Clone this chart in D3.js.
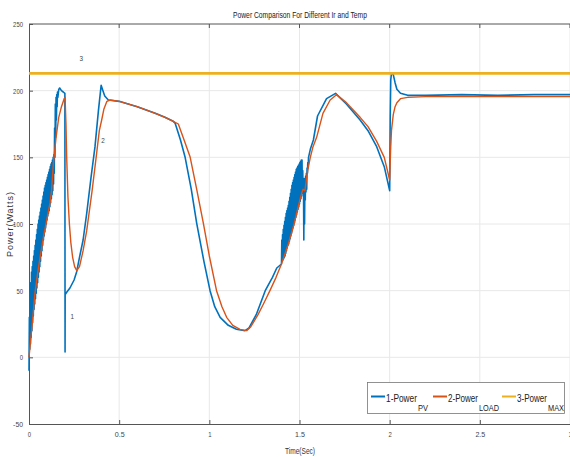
<!DOCTYPE html>
<html><head><meta charset="utf-8">
<script src="https://cdn.jsdelivr.net/npm/d3@7"></script>
<style>
html,body{margin:0;padding:0;background:#fff;}
svg text{font-family:'Liberation Sans',Arial,sans-serif;}
</style></head>
<body><svg id="c" width="570" height="457"></svg>
<script>
// ---- data ----
const xTicks = [0, 0.5, 1, 1.5, 2, 2.5, 3];
const xTickLabels = ["0", "0.5", "1", "1.5", "2", "2.5", "3"];
const yTicks = [-50, 0, 50, 100, 150, 200, 250];
const yTickLabels = ["-50", "0", "50", "100", "150", "200", "250"];
const seriesNames = ["1-Power", "2-Power", "3-Power"];
const seriesSubs = ["PV", "LOAD", "MAX"];
const pMax = 213;

// PV power, start-up ripple (0 - 0.16 s)
const pvT1 = [0,0.002,0.004,0.006,0.008,0.010,0.012,0.014,0.016,0.018,0.020,0.022,0.024,0.026,0.028,0.030,0.032,0.034,0.036,0.038,0.040,0.042,0.044,0.046,0.048,0.050,0.052,0.054,0.056,0.058,0.060,0.062,0.064,0.066,0.068,0.070,0.072,0.074,0.076,0.078,0.080,0.082,0.084,0.086,0.088,0.090,0.092,0.094,0.096,0.098,0.100,0.102,0.104,0.106,0.108,0.110,0.112,0.114,0.116,0.118,0.120,0.122,0.124,0.126,0.128,0.130,0.132,0.134,0.136,0.138,0.140,0.142,0.144,0.146,0.148,0.150,0.152,0.154,0.156,0.158,0.160];
const pvP1 = [-10,30,6,48,10,56,15,64,20,68,26,72,31,76,36,80,40,84,44,88,48,92,52,96,56,100,60,103,64,106,68,109,72,112,76,115,80,118,84,121,88,124,91,127,94,129,97,131,100,133,103,135,106,137,108,139,110,141,113,143,116,145,119,146,122,148,125,150,130,152,138,172,150,190,165,195,178,197,188,199,195];
// PV power, 0.165 - 1.40 s
const pvT2 = [0.165,0.17,0.18,0.19,0.199,0.2,0.2005,0.21,0.227,0.25,0.264,0.28,0.30,0.32,0.344,0.366,0.385,0.40,0.41,0.42,0.44,0.5,0.6,0.7,0.754,0.8,0.81,0.84,0.865,0.9,0.93,0.97,1.004,1.03,1.06,1.105,1.15,1.198,1.22,1.26,1.31,1.35,1.374];
const pvP2 = [201,202,200,199,198,4,47,49,52,58,64,75,88,108,135,158,185,204,200,196,193,192,188,183,180,177,175.7,163,150.5,126,100.5,72,50,38,30,24,21,20,22,32,50,60,67];
// PV power, tracking ripple (1.40 - 1.55 s)
const pvT3 = [1.400,1.402,1.404,1.406,1.408,1.410,1.412,1.414,1.416,1.418,1.420,1.422,1.424,1.426,1.428,1.430,1.432,1.434,1.436,1.438,1.440,1.442,1.444,1.446,1.448,1.450,1.452,1.454,1.456,1.458,1.460,1.462,1.464,1.466,1.468,1.470,1.472,1.474,1.476,1.478,1.480,1.482,1.484,1.486,1.488,1.490,1.492,1.494,1.496,1.498,1.500,1.502,1.504,1.506,1.508,1.510,1.512,1.514,1.516,1.518,1.520,1.522,1.524,1.526,1.528,1.530,1.532,1.534,1.536,1.538,1.540,1.542,1.544,1.546,1.548,1.550];
const pvP3 = [70,88,72,92,73,96,74,99,75,102,76,105,78,108,80,110,82,112,84,114,85,117,87,120,89,123,91,126,93,129,95,131,97,133,99,135,101,137,103,139,105,141,107,142,109,143,111,144,113,145,115,146,117,147,119,148,121,148,123,140,124,132,88,134,100,130,118,136,124,138,126,142,138,146,142,150];
// PV power, 1.555 - 3 s
const pvT4 = [1.555,1.56,1.577,1.6,1.65,1.70,1.76,1.836,1.88,1.928,1.97,2.0,2.003,2.006,2.01,2.02,2.03,2.04,2.06,2.1,2.2,2.4,2.6,2.8,3.0];
const pvP4 = [153,156,163,181,194,198,190,178,170,158,143,125,180,208,213,212,206,201,198,196.5,196.5,197,196.5,197,197];

// Load power
const loadT = [0,0.01,0.02,0.033,0.05,0.065,0.08,0.1,0.117,0.125,0.135,0.15,0.165,0.18,0.195,0.2,0.205,0.209,0.216,0.224,0.232,0.242,0.253,0.265,0.28,0.30,0.32,0.35,0.375,0.39,0.403,0.415,0.432,0.45,0.5,0.6,0.7,0.754,0.8,0.828,0.86,0.893,0.93,0.967,1.0,1.04,1.07,1.096,1.13,1.17,1.207,1.23,1.27,1.3,1.336,1.37,1.4,1.438,1.47,1.5,1.512,1.52,1.53,1.545,1.56,1.575,1.595,1.63,1.67,1.705,1.76,1.836,1.88,1.928,1.97,2.0,2.005,2.01,2.02,2.03,2.04,2.06,2.1,2.2,3.0];
const loadP = [0,14,28,48,65,78,90,104,116,125,145,165,180,188,194,195,175,150,120,100,86,75,68,65,68,80,95,125,153,170,178,186,192,193,192,188,183,180,177,175,163,150.5,126,100.5,76,50,38,30,24,21,20,23,32,40,50,60,70,85,100,117,123,126,125,140,150,158,165,183,193,197,191,180,173,162,150,133,155,170,182,188,191,194,195,195.5,195.5];

// ---- chart ----
const svg = d3.select("#c");
const x = d3.scaleLinear().domain([0, 3]).range([29, 570]);
const y = d3.scaleLinear().domain([-50, 250]).range([424, 24]);
const cBlue = "#0072BD", cOrange = "#D95319", cYellow = "#EDB120";

// grid
svg.append("g").selectAll("line").data(xTicks.slice(1)).join("line")
  .attr("x1", d => x(d)).attr("x2", d => x(d)).attr("y1", y(-50)).attr("y2", y(250))
  .attr("stroke", "#e8e8e8").attr("stroke-width", 1);
svg.append("g").selectAll("line").data(yTicks.slice(1, -1)).join("line")
  .attr("x1", x(0)).attr("x2", x(3)).attr("y1", d => y(d)).attr("y2", d => y(d))
  .attr("stroke", "#e8e8e8").attr("stroke-width", 1);

// axes
const xAxis = d3.axisBottom(x).tickValues(xTicks).tickFormat((d, i) => xTickLabels[i]).tickSize(-4).tickPadding(7);
const gx = svg.append("g").attr("transform", `translate(0,${y(-50)})`).call(xAxis);
const yAxis = d3.axisLeft(y).tickValues(yTicks).tickFormat((d, i) => yTickLabels[i]).tickSize(-4).tickPadding(6);
const gy = svg.append("g").attr("transform", `translate(${x(0)},0)`).call(yAxis);
[gx, gy].forEach(g => {
  g.select(".domain").attr("stroke", "#555").attr("stroke-width", 1);
  g.selectAll(".tick line").attr("stroke", "#555");
  g.selectAll(".tick text").attr("fill", "#444").style("font-size", "8px")
    .attr("textLength", function() { return this.textContent.length * 3.3; })
    .attr("lengthAdjust", "spacingAndGlyphs");
});
// top border
svg.append("line").attr("x1", x(0)).attr("x2", x(3)).attr("y1", y(250)).attr("y2", y(250)).attr("stroke", "#555");
svg.append("g").selectAll("line").data(xTicks.slice(1)).join("line")
  .attr("x1", d => x(d)).attr("x2", d => x(d)).attr("y1", y(250)).attr("y2", y(250) + 4).attr("stroke", "#555");

// lines
const line = d3.line().x(d => x(d[0])).y(d => y(d[1]));
const pvT = pvT1.concat(pvT2, pvT3, pvT4);
const pvP = pvP1.concat(pvP2, pvP3, pvP4);
const pvData = pvT.map((t, i) => [t, pvP[i]]);
const loadData = loadT.map((t, i) => [t, loadP[i]]);
svg.append("path").datum(pvData).attr("d", line).attr("fill", "none")
  .attr("stroke", cBlue).attr("stroke-width", 1.6).attr("stroke-linejoin", "round");
svg.append("path").datum(loadData).attr("d", line).attr("fill", "none")
  .attr("stroke", cOrange).attr("stroke-width", 1.4).attr("stroke-linejoin", "round");
svg.append("path").datum([[0, pMax], [3, pMax]]).attr("d", line).attr("fill", "none")
  .attr("stroke", cYellow).attr("stroke-width", 2.6);

// annotations
const ann = [["3", 0.29, 222], ["2", 0.41, 161], ["1", 0.24, 29]];
svg.append("g").selectAll("text").data(ann).join("text")
  .attr("x", d => x(d[1])).attr("y", d => y(d[2])).text(d => d[0])
  .attr("fill", "#444").style("font-size", "8px").attr("text-anchor", "middle")
  .attr("textLength", 3.5).attr("lengthAdjust", "spacingAndGlyphs");

// title & labels
function fitText(xp, yp, txt, size, len, color) {
  return svg.append("text").attr("x", xp).attr("y", yp).style("font-size", size + "px")
    .attr("fill", color).attr("textLength", len).attr("lengthAdjust", "spacingAndGlyphs").text(txt);
}
fitText(233, 18, "Power Comparison For Different Ir and Temp", 9.5, 134, "#222");
fitText(285, 454, "Time(Sec)", 9.5, 30, "#333");
svg.append("text").attr("transform", "translate(13,257) rotate(-90)")
  .style("font-size", "9px").attr("textLength", 65).attr("lengthAdjust", "spacing")
  .attr("fill", "#333").text("Power(Watts)");

// legend
svg.append("rect").attr("x", 367.5).attr("y", 382.5).attr("width", 197).attr("height", 31)
  .attr("fill", "#fff").attr("stroke", "#777").attr("stroke-width", 0.8);
const legLine = [371, 433, 502];
const legTextX = [386, 448, 517];
const legTextW = [31, 30, 30];
const legSubW = [10, 20, 16];
const colors = [cBlue, cOrange, cYellow];
seriesNames.forEach((n, i) => {
  svg.append("line").attr("x1", legLine[i]).attr("x2", legLine[i] + 14).attr("y1", 396.5).attr("y2", 396.5)
    .attr("stroke", colors[i]).attr("stroke-width", 2);
  fitText(legTextX[i], 401.5, n, 11.5, legTextW[i], "#222");
  fitText(legTextX[i] + legTextW[i] + 1, 410.5, seriesSubs[i], 8.5, legSubW[i], "#222");
});
</script></body></html>
